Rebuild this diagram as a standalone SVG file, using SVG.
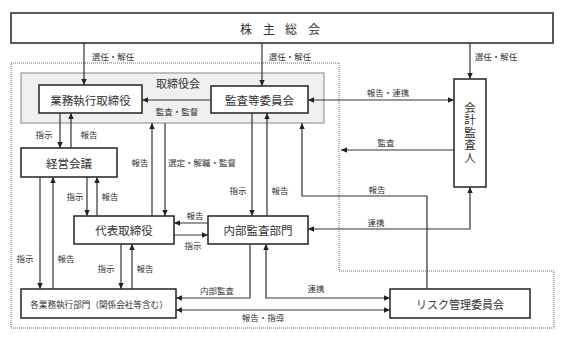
<svg xmlns="http://www.w3.org/2000/svg" width="562" height="342" viewBox="0 0 562 342">
<defs>
<marker id="ah" viewBox="0 0 6 6" refX="6" refY="3" markerWidth="6" markerHeight="6" markerUnits="userSpaceOnUse" orient="auto-start-reverse">
<path d="M0,0.3 L6,3 L0,5.7 z" fill="#222"/>
</marker>
<style>
.box{fill:#fff;stroke:#222;stroke-width:1.5}
.grp{fill:#efefef;stroke:#999;stroke-width:1.2}
.dot{fill:none;stroke:#666;stroke-width:1;stroke-dasharray:1 1}
.ln{fill:none;stroke:#333;stroke-width:1.2}
.e{marker-end:url(#ah)}
.b{marker-start:url(#ah);marker-end:url(#ah)}
text{font-family:"Noto Sans CJK JP","Noto Sans CJK SC",sans-serif;fill:#333}
.nt{font-size:11.5px;text-anchor:middle;dominant-baseline:central}
.lb{font-size:8.5px;text-anchor:middle}
</style>
</defs>
<rect width="562" height="342" fill="#fff"/>
<polygon class="dot" points="11,63 339,63 339,271 554,271 554,328 11,328"/>
<g id="board">
<rect class="grp" x="21" y="73" width="303" height="50"/>
<text class="nt" x="178" y="83" style="font-size:11px">取締役会</text>
</g>
<g id="shareholders">
<rect class="box" x="11" y="13" width="542" height="30"/>
<text style="font-size:12px;dominant-baseline:central" x="240 263 285 308" y="28">株主総会</text>
</g>
<g id="exec-directors">
<rect class="box" x="39" y="85" width="103" height="28"/>
<text class="nt" x="90.5" y="99.5">業務執行取締役</text>
</g>
<g id="audit-committee">
<rect class="box" x="211" y="86" width="97" height="27"/>
<text class="nt" x="259.5" y="99.5">監査等委員会</text>
</g>
<g id="accounting-auditor">
<rect class="box" x="454" y="79" width="32" height="108"/>
<text x="470" y="133" style="font-size:11.5px;writing-mode:vertical-rl;text-anchor:middle;letter-spacing:1px">会計監査人</text>
</g>
<g id="management-meeting">
<rect class="box" x="21" y="148" width="96" height="29"/>
<text class="nt" x="69" y="162.5">経営会議</text>
</g>
<g id="representative-director">
<rect class="box" x="74" y="216" width="100" height="28"/>
<text class="nt" x="124" y="230">代表取締役</text>
</g>
<g id="internal-audit">
<rect class="box" x="208" y="216" width="100" height="28"/>
<text class="nt" x="258" y="230">内部監査部門</text>
</g>
<g id="business-divisions">
<rect class="box" x="21" y="289" width="155" height="29"/>
<text class="nt" x="99" y="303.5" style="font-size:8.6px">各業務執行部門（関係会社等含む）</text>
</g>
<g id="risk-committee">
<rect class="box" x="390" y="289" width="140" height="29"/>
<text class="nt" x="460" y="303.5" style="font-size:11px">リスク管理委員会</text>
</g>
<g id="connectors">
<path class="ln e" d="M84,43 V85"/>
<path class="ln e" d="M262,43 V86"/>
<path class="ln e" d="M470,43 V79"/>
<path class="ln e" d="M211,100 H142"/>
<path class="ln b" d="M308,100 H454"/>
<path class="ln e" d="M454,150 H341"/>
<path class="ln e" d="M60,113 V148"/>
<path class="ln e" d="M71,148 V113"/>
<path class="ln e" d="M152,216 V123"/>
<path class="ln e" d="M165,123 V216"/>
<path class="ln e" d="M252,113 V216"/>
<path class="ln e" d="M267,216 V113"/>
<path class="ln e" d="M427,289 V196 H302 V123"/>
<path class="ln b" d="M470,187 V229 H308"/>
<path class="ln e" d="M87,177 V216"/>
<path class="ln e" d="M97,216 V177"/>
<path class="ln e" d="M40,177 V289"/>
<path class="ln e" d="M53,289 V177"/>
<path class="ln e" d="M208,223 H174"/>
<path class="ln e" d="M174,235 H208"/>
<path class="ln e" d="M121,244 V289"/>
<path class="ln e" d="M132,289 V244"/>
<path class="ln e" d="M250,244 V298 H176"/>
<path class="ln b" d="M266,244 V298 H390"/>
<path class="ln b" d="M176,310 H390"/>
</g>
<g id="labels">
<text class="lb" x="113" y="60">選任・解任</text>
<text class="lb" x="290" y="60">選任・解任</text>
<text class="lb" x="496" y="60">選任・解任</text>
<text class="lb" x="177" y="115">監査・監督</text>
<text class="lb" x="388" y="96">報告・連携</text>
<text class="lb" x="386" y="146">監査</text>
<text class="lb" x="44" y="138">指示</text>
<text class="lb" x="89" y="138">報告</text>
<text class="lb" x="140" y="166">報告</text>
<text class="lb" x="202" y="166">選定・解職・監督</text>
<text class="lb" x="238" y="194">指示</text>
<text class="lb" x="280" y="194">報告</text>
<text class="lb" x="377" y="193">報告</text>
<text class="lb" x="376" y="226">連携</text>
<text class="lb" x="195" y="219">報告</text>
<text class="lb" x="193" y="249">指示</text>
<text class="lb" x="75" y="200">指示</text>
<text class="lb" x="110" y="200">報告</text>
<text class="lb" x="25" y="262">指示</text>
<text class="lb" x="66" y="262">報告</text>
<text class="lb" x="106" y="272">指示</text>
<text class="lb" x="145" y="272">報告</text>
<text class="lb" x="217" y="294">内部監査</text>
<text class="lb" x="316" y="292">連携</text>
<text class="lb" x="263" y="321">報告・指導</text>
</g>
</svg>
